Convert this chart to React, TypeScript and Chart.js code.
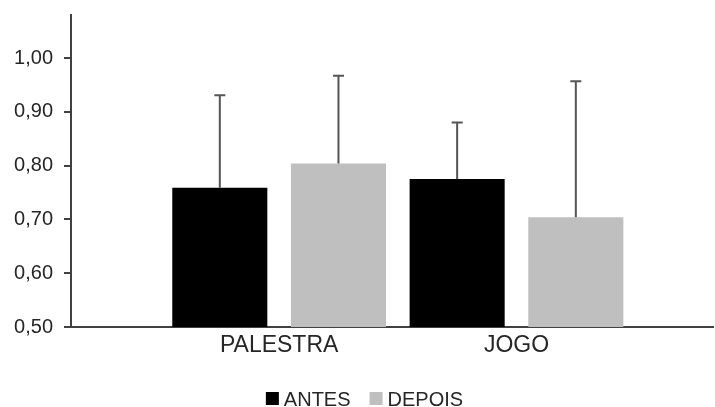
import { useEffect, useRef } from 'react';
import { Chart, registerables } from 'chart.js';

Chart.register(...registerables);

const categories = ['PALESTRA', 'JOGO'];
const seriesLabels = ['ANTES', 'DEPOIS'];
const antes = [0.759, 0.775];
const depois = [0.804, 0.704];
const antesSD = [0.172, 0.105];
const depoisSD = [0.163, 0.253];
const yTicks = [0.5, 0.6, 0.7, 0.8, 0.9, 1.0];

const FONT = "'Liberation Sans', Arial, sans-serif";
const TEXT = '#262626';
const AXIS = '#404040';
const sds = [antesSD, depoisSD];

const errorBarPlugin = {
  id: 'errorBars',
  afterDatasetsDraw(chart: any) {
    const ctx = chart.ctx;
    const y = chart.scales.y;
    chart.data.datasets.forEach((ds: any, di: number) => {
      const meta = chart.getDatasetMeta(di);
      meta.data.forEach((bar: any, i: number) => {
        const v = ds.data[i].y;
        const e = sds[di][i];
        const top = y.getPixelForValue(v + e);
        const base = y.getPixelForValue(v);
        ctx.save();
        ctx.strokeStyle = '#555555';
        ctx.lineWidth = 2;
        ctx.beginPath();
        ctx.moveTo(bar.x, base);
        ctx.lineTo(bar.x, top);
        ctx.moveTo(bar.x - 5.5, top);
        ctx.lineTo(bar.x + 5.5, top);
        ctx.stroke();
        ctx.restore();
      });
    });
  },
};

const legendPlugin = {
  id: 'customLegend',
  afterDraw(chart: any) {
    const ctx = chart.ctx;
    ctx.save();
    ctx.font = `20px ${FONT}`;
    const box = 13;
    const gap = 5;
    const itemGap = 19;
    const items = chart.data.datasets.map((d: any) => ({
      label: d.label,
      color: d.backgroundColor,
      w: ctx.measureText(d.label).width,
    }));
    const total =
      items.reduce((s: number, it: any) => s + box + gap + it.w, 0) + itemGap * (items.length - 1);
    let x = chart.width / 2 + 7 - total / 2;
    const baseline = chart.height - 1;
    items.forEach((it: any) => {
      ctx.fillStyle = it.color;
      ctx.fillRect(x, baseline - 14, box, box);
      x += box + gap;
      ctx.fillStyle = TEXT;
      ctx.textBaseline = 'alphabetic';
      ctx.textAlign = 'left';
      ctx.fillText(it.label, x, baseline);
      x += it.w + itemGap;
    });
    ctx.restore();
  },
};

export default function App() {
  const ref = useRef<HTMLCanvasElement | null>(null);

  useEffect(() => {
    if (!ref.current) return;
    const chart = new Chart(ref.current, {
      type: 'bar',
      data: {
        datasets: [
          {
            label: seriesLabels[0],
            data: antes.map((v, i) => ({ x: i + 1, y: v })),
            backgroundColor: '#000000',
          },
          {
            label: seriesLabels[1],
            data: depois.map((v, i) => ({ x: i + 1, y: v })),
            backgroundColor: '#bfbfbf',
          },
        ],
      },
      options: {
        animation: false,
        responsive: true,
        maintainAspectRatio: false,
        categoryPercentage: 1.0,
        barPercentage: 0.801,
        layout: { padding: { top: 15, right: 2, bottom: 50, left: 0 } },
        plugins: {
          legend: { display: false },
          tooltip: { enabled: false },
        },
        scales: {
          x: {
            type: 'linear',
            min: 0.123,
            max: 2.828,
            offset: false,
            afterBuildTicks: (s: any) => {
              s.ticks = categories.map((_, i) => ({ value: i + 1 }));
            },
            afterFit: (s: any) => {
              s.height = 30;
              s.paddingLeft = 0;
              s.paddingRight = 0;
            },
            ticks: {
              autoSkip: false,
              maxRotation: 0,
              padding: 5,
              color: TEXT,
              font: { family: FONT, size: 23 },
              callback: (v: any) => categories[Math.round(Number(v)) - 1] ?? '',
            },
            grid: { display: false, drawTicks: false },
            border: { display: true, color: AXIS, width: 2 },
          },
          y: {
            type: 'linear',
            min: 0.5,
            max: 1.08,
            afterBuildTicks: (s: any) => {
              s.ticks = yTicks.map((v) => ({ value: v }));
            },
            afterFit: (s: any) => {
              s.width = 71;
              s.paddingTop = 0;
              s.paddingBottom = 0;
            },
            ticks: {
              padding: 11,
              color: TEXT,
              font: { family: FONT, size: 20 },
              callback: (v: any) => Number(v).toFixed(2).replace('.', ','),
            },
            grid: {
              drawOnChartArea: false,
              drawTicks: true,
              tickLength: 7,
              color: AXIS,
              lineWidth: 2,
            },
            border: { display: true, color: AXIS, width: 2 },
          },
        },
      },
      plugins: [errorBarPlugin, legendPlugin],
    } as any);
    return () => chart.destroy();
  }, []);

  return (
    <div style={{ position: 'fixed', left: 0, top: 0, width: 715, height: 407, background: '#fff' }}>
      <canvas ref={ref} />
    </div>
  );
}
